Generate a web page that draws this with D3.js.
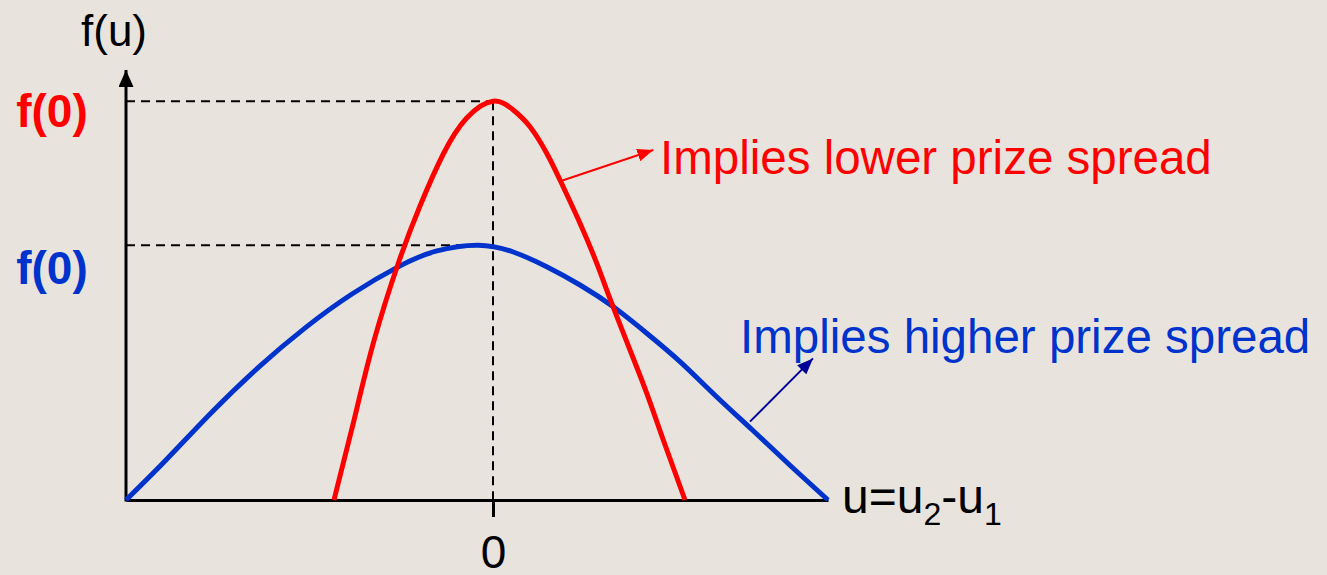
<!DOCTYPE html>
<html>
<head>
<meta charset="utf-8">
<script src="https://cdn.jsdelivr.net/npm/d3@7"></script>
<style>
  html, body { margin: 0; padding: 0; background: #e8e4dd; }
  svg { display: block; font-family: "Liberation Sans", Arial, sans-serif; }
</style>
</head>
<body>
<svg id="chart"></svg>
<script>
// Density curves: u = u2 - u1, f(u)
const redU = [-1.59, -1.397, -1.197, -0.947, -0.73, -0.497, -0.263, 0, 0.203, 0.37, 0.537, 0.67, 0.87, 1.037, 1.187, 1.37, 1.537, 1.703, 1.92];
const redF = [0, 0.192, 0.392, 0.592, 0.735, 0.865, 0.955, 0.997, 0.975, 0.933, 0.867, 0.80, 0.692, 0.592, 0.492, 0.375, 0.267, 0.15, 0];

const blueU = [-3.67, -3.27, -2.81, -2.34, -1.875, -1.41, -0.94, -0.57, -0.15, 0.203, 0.537, 0.87, 1.203, 1.537, 1.87, 2.22, 2.594, 2.967, 3.35];
const blueF = [0, 0.10, 0.22, 0.333, 0.431, 0.515, 0.584, 0.622, 0.637, 0.62, 0.583, 0.5375, 0.483, 0.417, 0.346, 0.262, 0.175, 0.0875, 0];

const peakRed = 0.997;
const peakBlue = 0.637;
const xTicks = [0];

// Annotation arrows (start on curve -> tip near label), in data units
const redArrow = [[0.687, 0.798], [1.603, 0.875]];
const blueArrow = [[2.57, 0.196], [3.20, 0.354]];

const labels = {
  yTitle: "f(u)",
  f0: "f(0)",
  red: "Implies lower prize spread",
  blue: "Implies higher prize spread"
};

const RED = "#ff0000";
const BLUE = "#0033cc";
const DARKBLUE = "#000099";

document.addEventListener('DOMContentLoaded', () => {
    const W = 1327, H = 575;
    const svg = d3.select("#chart").attr("width", W).attr("height", H);

    // Scales
    const x = d3.scaleLinear().domain([-3.67, 3.35]).range([126, 828]);
    const y = d3.scaleLinear().domain([0, 1.075]).range([500, 70]);

    const defs = svg.append("defs");
    function marker(id, color, w, h) {
        defs.append("marker")
            .attr("id", id)
            .attr("viewBox", `0 0 ${w} ${h}`)
            .attr("refX", w).attr("refY", h / 2)
            .attr("markerUnits", "userSpaceOnUse")
            .attr("markerWidth", w).attr("markerHeight", h)
            .attr("orient", "auto")
            .append("path")
            .attr("d", `M0,0L${w},${h / 2}L0,${h}Z`)
            .attr("fill", color);
    }
    marker("arrAxis", "#000", 17, 15);
    marker("arrRed", RED, 16, 13);
    marker("arrBlue", DARKBLUE, 16, 13);

    // Dashed guides
    const dash = svg.append("g")
        .attr("stroke", "#000")
        .attr("stroke-width", 2)
        .attr("stroke-dasharray", "9,6")
        .attr("fill", "none");
    dash.append("line")
        .attr("x1", x(x.domain()[0])).attr("x2", x(0))
        .attr("y1", y(peakRed)).attr("y2", y(peakRed));
    dash.append("line")
        .attr("x1", x(x.domain()[0])).attr("x2", x(0))
        .attr("y1", y(peakBlue)).attr("y2", y(peakBlue));
    dash.append("line")
        .attr("x1", x(0)).attr("x2", x(0))
        .attr("y1", y(peakRed)).attr("y2", y(0));

    // X axis
    const xAxis = svg.append("g")
        .attr("transform", `translate(0,${y(0)})`)
        .call(d3.axisBottom(x).tickValues(xTicks).tickSize(17).tickSizeOuter(0).tickPadding(18).tickFormat(d3.format("d")));
    xAxis.select(".domain").attr("stroke-width", 3);
    xAxis.selectAll(".tick line").attr("stroke-width", 3);
    xAxis.selectAll(".tick text")
        .attr("font-size", 46)
        .attr("font-family", "Liberation Sans, Arial, sans-serif")
        .attr("fill", "#000");

    // Y axis with arrowhead
    svg.append("line")
        .attr("x1", x(x.domain()[0])).attr("x2", x(x.domain()[0]))
        .attr("y1", y(0) + 1.5).attr("y2", y(y.domain()[1]))
        .attr("stroke", "#000").attr("stroke-width", 3)
        .attr("marker-end", "url(#arrAxis)");

    // Curves
    const line = d3.line()
        .curve(d3.curveNatural)
        .x(d => x(d[0]))
        .y(d => y(d[1]));

    svg.append("path")
        .datum(blueU.map((u, i) => [u, blueF[i]]))
        .attr("fill", "none")
        .attr("stroke", BLUE)
        .attr("stroke-width", 5)
        .attr("d", line);

    svg.append("path")
        .datum(redU.map((u, i) => [u, redF[i]]))
        .attr("fill", "none")
        .attr("stroke", RED)
        .attr("stroke-width", 5)
        .attr("d", line);

    // Annotation arrows
    svg.append("line")
        .attr("x1", x(redArrow[0][0])).attr("y1", y(redArrow[0][1]))
        .attr("x2", x(redArrow[1][0])).attr("y2", y(redArrow[1][1]))
        .attr("stroke", RED).attr("stroke-width", 2)
        .attr("marker-end", "url(#arrRed)");
    svg.append("line")
        .attr("x1", x(blueArrow[0][0])).attr("y1", y(blueArrow[0][1]))
        .attr("x2", x(blueArrow[1][0])).attr("y2", y(blueArrow[1][1]))
        .attr("stroke", DARKBLUE).attr("stroke-width", 2)
        .attr("marker-end", "url(#arrBlue)");

    // Labels
    svg.append("text")
        .attr("x", x(x.domain()[0]) - 12).attr("y", 46)
        .attr("text-anchor", "middle")
        .attr("font-size", 44)
        .attr("fill", "#000")
        .text(labels.yTitle);

    svg.append("text")
        .attr("x", 52).attr("y", y(peakRed) + 26)
        .attr("text-anchor", "middle")
        .attr("font-size", 46).attr("font-weight", "bold")
        .attr("fill", RED)
        .text(labels.f0);

    svg.append("text")
        .attr("x", 52).attr("y", y(peakBlue) + 39)
        .attr("text-anchor", "middle")
        .attr("font-size", 46).attr("font-weight", "bold")
        .attr("fill", BLUE)
        .text(labels.f0);

    svg.append("text")
        .attr("x", 660).attr("y", 174)
        .attr("font-size", 47.5)
        .attr("fill", RED)
        .text(labels.red);

    svg.append("text")
        .attr("x", 740).attr("y", 353)
        .attr("font-size", 47.5)
        .attr("fill", BLUE)
        .text(labels.blue);

    // u = u2 - u1 axis label
    const ul = svg.append("text")
        .attr("x", 842).attr("y", 513)
        .attr("font-size", 48)
        .attr("fill", "#000");
    ul.append("tspan").text("u=u");
    ul.append("tspan").attr("font-size", 32).attr("dy", 12).text("2");
    ul.append("tspan").attr("dy", -12).text("-u");
    ul.append("tspan").attr("font-size", 32).attr("dy", 12).text("1");
});
</script>
</body>
</html>
